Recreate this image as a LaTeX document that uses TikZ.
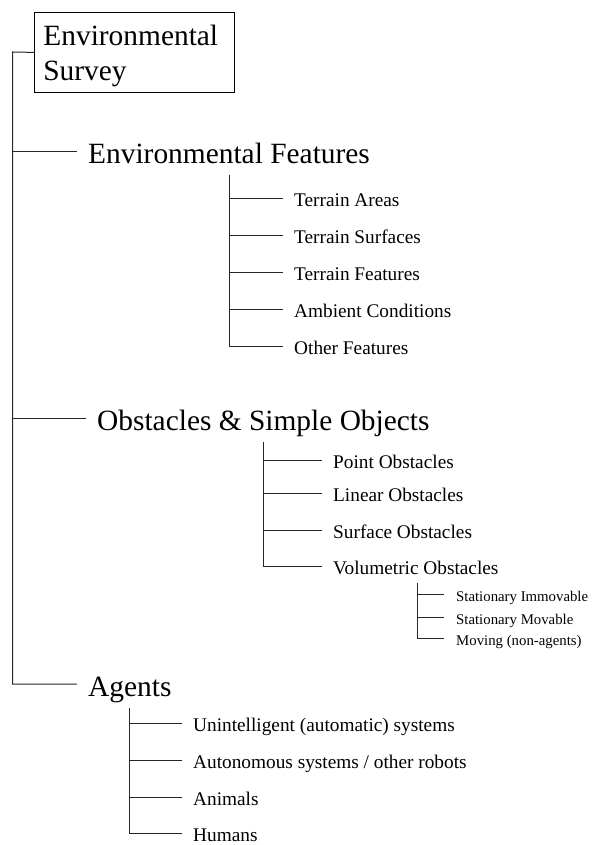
\documentclass[tikz,border=0pt]{standalone}
\usepackage{fontspec}
\setmainfont{Liberation Serif}
\begin{document}
\begin{tikzpicture}[x=1pt,y=-1pt,
  link/.style={line width=1pt,black!85},
  bigtext/.style={anchor=west,inner xsep=11pt,inner ysep=0pt,
    font=\fontsize{29.4}{35}\selectfont,text height=27pt,text depth=3pt},
  midtext/.style={anchor=west,inner xsep=11pt,inner ysep=0pt,
    font=\fontsize{19.3}{23}\selectfont,text height=19pt,text depth=3pt},
  smalltext/.style={anchor=west,inner xsep=12pt,inner ysep=0pt,
    font=\fontsize{14.8}{18}\selectfont,text height=18pt,text depth=2.6pt},
  rootbox/.style={draw,line width=0.8pt,anchor=north west,minimum width=200pt,
    minimum height=80pt,text width=182pt,inner xsep=9pt,inner ysep=0pt,align=left,
    font=\fontsize{29.4}{35}\selectfont}]
\useasboundingbox (0,0) rectangle (597,845);

% root
\node[rootbox] (survey) at (34,12)
  {\rule{0pt}{27pt}Environmental\\Survey};

% first level
\node[bigtext] (envf) at (77,152) {Environmental Features};
\node[bigtext] (obst) at (86,418) {Obstacles \& Simple Objects};
\node[bigtext] (agents) at (77,684) {Agents};

\coordinate (trunk) at (12.7,52);
\draw[link] (survey.west) -- (trunk) |- (agents.west);
\draw[link] (trunk) |- (envf.west);
\draw[link] (trunk) |- (obst.west);

% environmental features
\node[midtext] (areas) at (283,198) {Terrain Areas};
\node[midtext] (surf) at (283,235) {Terrain Surfaces};
\node[midtext] (tfeat) at (283,272) {Terrain Features};
\node[midtext] (amb) at (283,309) {Ambient Conditions};
\node[midtext] (other) at (283,346) {Other Features};
\coordinate (envtop) at (229,175);
\foreach \n in {areas,surf,tfeat,amb,other}
  \draw[link] (envtop) |- (\n.west);

% obstacles
\node[midtext] (point) at (322,460) {Point Obstacles};
\node[midtext] (linear) at (322,493) {Linear Obstacles};
\node[midtext] (surfob) at (322,530) {Surface Obstacles};
\node[midtext] (vol) at (322,566) {Volumetric Obstacles};
\coordinate (obtop) at (263,442);
\foreach \n in {point,linear,surfob,vol}
  \draw[link] (obtop) |- (\n.west);

% volumetric obstacles
\node[smalltext] (immov) at (444,594) {Stationary Immovable};
\node[smalltext] (mov) at (444,617) {Stationary Movable};
\node[smalltext] (moving) at (444,638) {Moving (non-agents)};
\coordinate (voltop) at (417,583);
\foreach \n in {immov,mov,moving}
  \draw[link] (voltop) |- (\n.west);

% agents
\node[midtext] (unint) at (182,723) {Unintelligent (automatic) systems};
\node[midtext] (auton) at (182,760) {Autonomous systems / other robots};
\node[midtext] (animals) at (182,797) {Animals};
\node[midtext] (humans) at (182,833) {Humans};
\coordinate (agtop) at (129,708);
\foreach \n in {unint,auton,animals,humans}
  \draw[link] (agtop) |- (\n.west);
\end{tikzpicture}
\end{document}
